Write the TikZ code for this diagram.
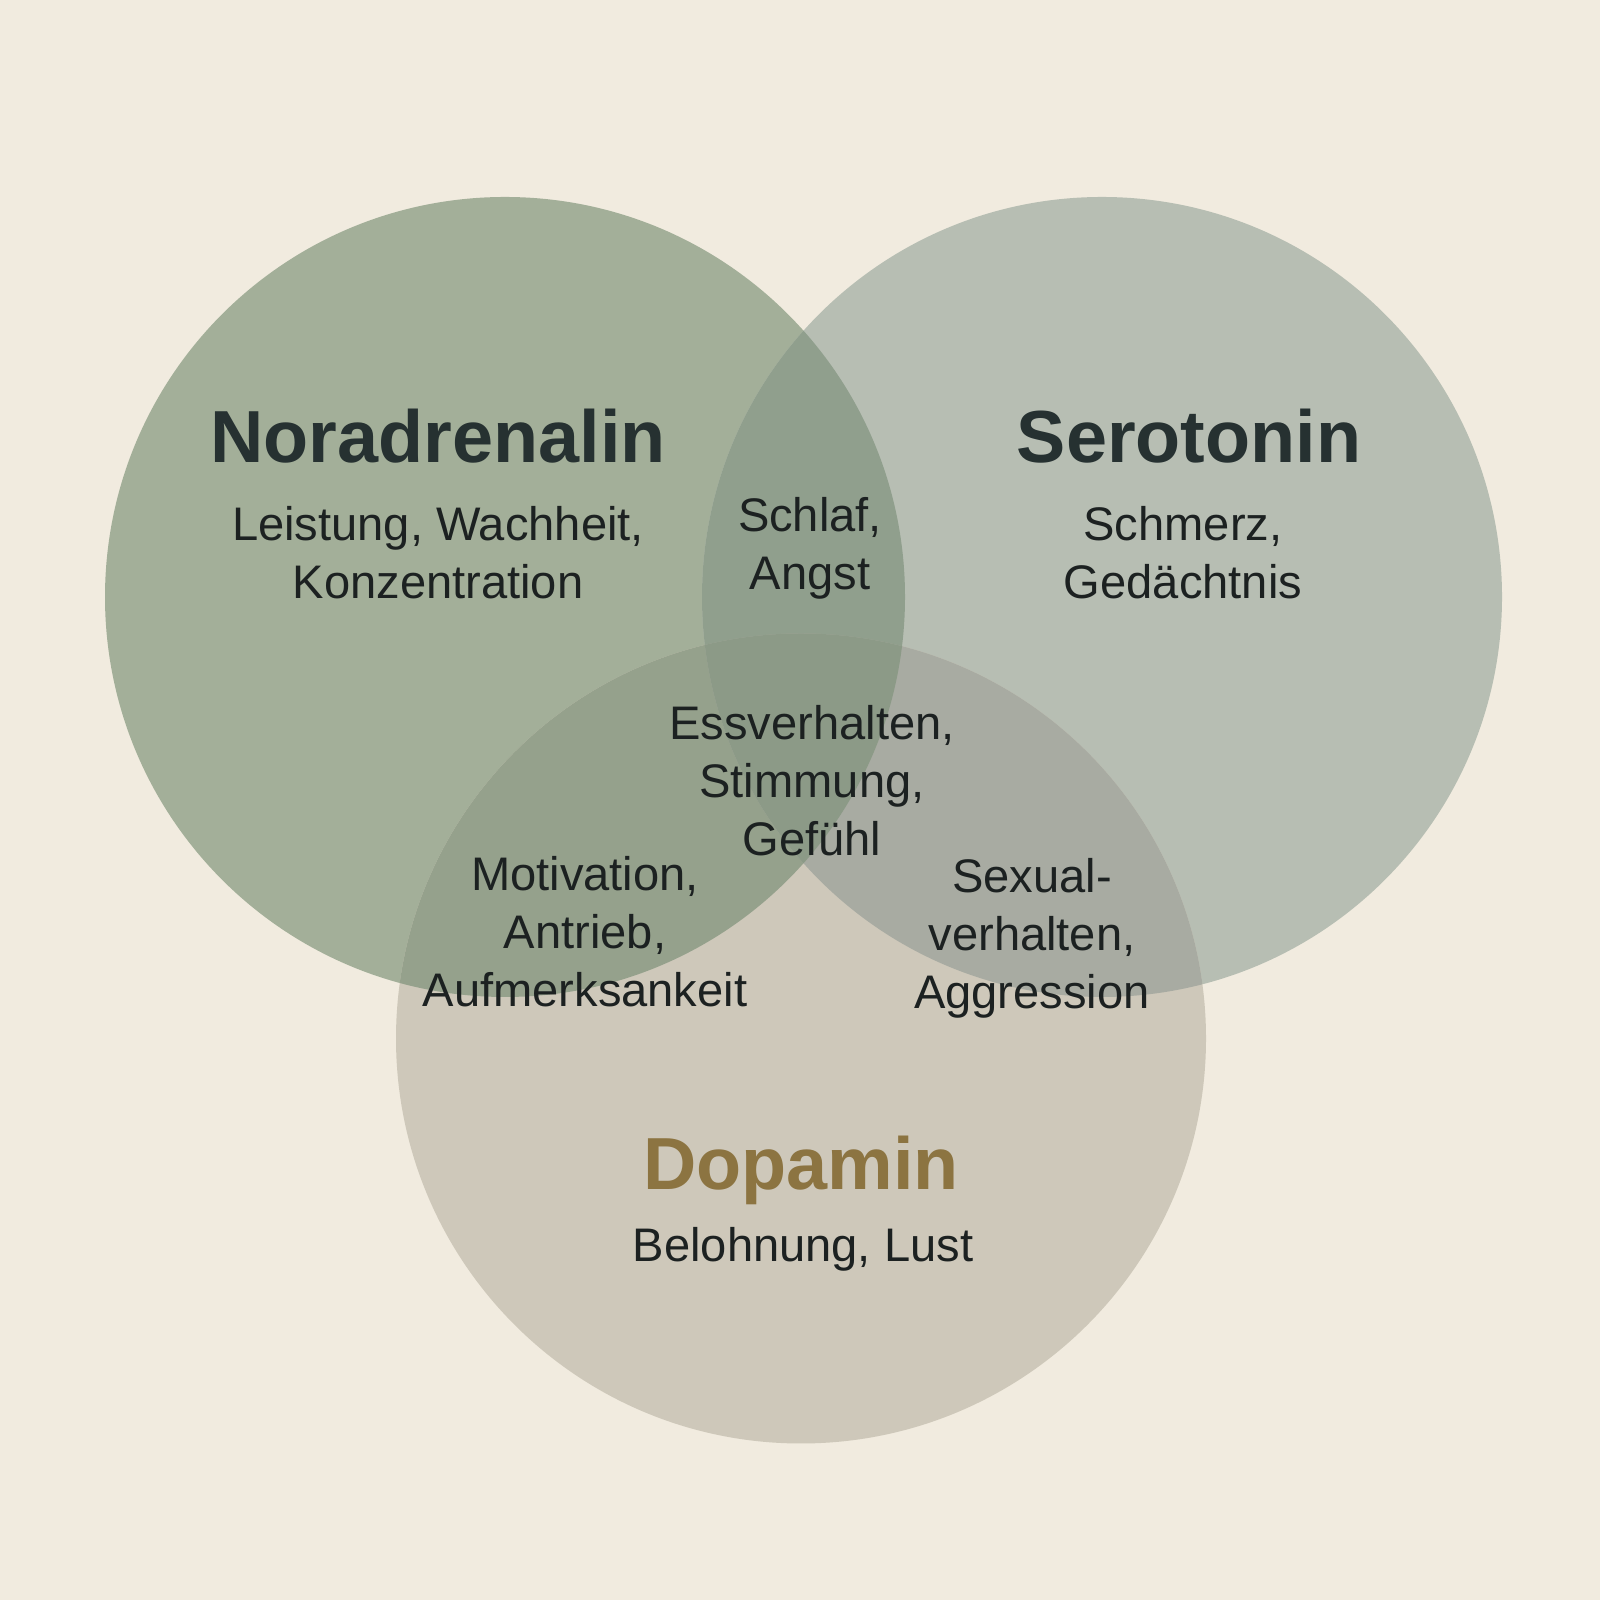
\documentclass[tikz,border=0pt]{standalone}
\usepackage{fontspec}
\setmainfont{Liberation Sans}
\usepackage{tikz}
\definecolor{paper}{HTML}{F1EBDF}
\definecolor{colN}{HTML}{A3AF99}
\definecolor{colS}{HTML}{B7BEB3}
\definecolor{colD}{HTML}{CEC8BA}
\definecolor{colNS}{HTML}{909F8D}
\definecolor{colND}{HTML}{95A18C}
\definecolor{colSD}{HTML}{A8ABA2}
\definecolor{colNSD}{HTML}{8C9A87}
\definecolor{inkdark}{HTML}{1C2121}
\definecolor{inkhead}{HTML}{263131}
\definecolor{inkgold}{HTML}{8C7441}
\tikzstyle{heading} = [inner sep=0pt, anchor=base, text=inkhead, font=\fontsize{21}{25}\selectfont\bfseries]
\tikzstyle{topic} = [inner sep=0pt, anchor=base, align=center, text=inkdark, font=\fontsize{13.4}{16.6}\selectfont]
\newcommand{\fillOverlap}[3]
{
    \begin{scope}
    \clip #1;
    \fill [#3] #2;
    \end{scope}
}

\begin{document}
\begin{tikzpicture}
\fill [paper] (0,0) rectangle (16,16);
\useasboundingbox (0,0) rectangle (16,16);

\fill [colN] (5.05,10.03) circle (4.0);
\fill [colS] (11.02,10.03) circle (4.0);
\fill [colD] (8.01,5.615) circle (4.05);

\fillOverlap{(5.05,10.03) circle (4.0)}{(11.02,10.03) circle (4.0)}{colNS}
\fillOverlap{(5.05,10.03) circle (4.0)}{(8.01,5.615) circle (4.05)}{colND}
\fillOverlap{(11.02,10.03) circle (4.0)}{(8.01,5.615) circle (4.05)}{colSD}
\begin{scope}
\clip (5.05,10.03) circle (4.0);
\fillOverlap{(11.02,10.03) circle (4.0)}{(8.01,5.615) circle (4.05)}{colNSD}
\end{scope}

\node (tN) [heading, xshift=4.38cm, yshift=11.37cm] {Noradrenalin};
\node (dN) [topic, xshift=4.38cm, yshift=10.01cm] {Leistung, Wachheit,\\Konzentration};
\node (tS) [heading, xshift=11.89cm, yshift=11.37cm] {Serotonin};
\node (dS) [topic, xshift=11.83cm, yshift=10.01cm] {Schmerz,\\Gedächtnis};
\node (dNS) [topic, xshift=8.10cm, yshift=10.10cm] {Schlaf,\\Angst};
\node (dNSD) [topic, xshift=8.12cm, yshift=7.44cm] {Essverhalten,\\Stimmung,\\Gefühl};
\node (dND) [topic, xshift=5.85cm, yshift=5.93cm] {Motivation,\\Antrieb,\\Aufmerksankeit};
\node (dSD) [topic, xshift=10.32cm, yshift=5.91cm] {Sexual-\\verhalten,\\Aggression};
\node (tD) [heading, text=inkgold, xshift=8.01cm, yshift=4.10cm] {Dopamin};
\node (dD) [topic, xshift=8.03cm, yshift=3.38cm] {Belohnung, Lust};

\end{tikzpicture}
\end{document}
